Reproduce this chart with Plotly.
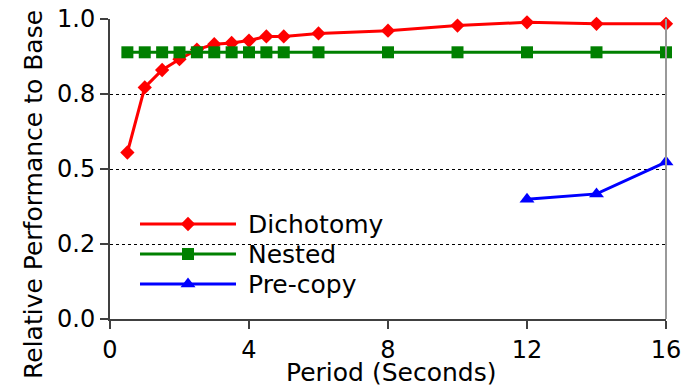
import plotly.graph_objects as go

# ---- data ----
periods = [0.5, 1, 1.5, 2, 2.5, 3, 3.5, 4, 4.5, 5, 6, 8, 10, 12, 14, 16]
dichotomy = [0.555, 0.772, 0.83, 0.866, 0.898, 0.916, 0.92, 0.928, 0.942, 0.942,
             0.952, 0.961, 0.978, 0.989, 0.984, 0.984]
nested = [0.889] * len(periods)
precopy_periods = [12, 14, 16]
precopy = [0.399, 0.417, 0.523]

x_ticks = [0, 4, 8, 12, 16]
y_ticks = [0, 0.25, 0.5, 0.75, 1.0]
y_tick_labels = ["0.0", "0.2", "0.5", "0.8", "1.0"]

series_names = ["Dichotomy", "Nested", "Pre-copy"]
series_colors = ["#ff0000", "#008000", "#0000ff"]
series_symbols = ["diamond", "square", "triangle-up"]
series_sizes = [11, 12, 13]

FONT = "DejaVu Sans"
W, H = 692, 388
L, R, T, B = 110, 26, 19, 69

fig = go.Figure()

xs = [periods, periods, precopy_periods]
ys = [dichotomy, nested, precopy]
for name, x, y, c, s, sz in zip(series_names, xs, ys, series_colors, series_symbols, series_sizes):
    fig.add_trace(go.Scatter(
        x=x, y=y, name=name, mode="lines+markers",
        line=dict(color=c, width=3),
        marker=dict(symbol=s, size=sz, color=c, line=dict(width=0)),
        cliponaxis=False, showlegend=False,
    ))

# ---- manual legend (layout decoration) ----
pw = W - L - R
ph = H - T - B
def px_x(p):
    return (p - L) / pw
def px_y(p):
    return (H - B - p) / ph

leg_rows_px = [224, 254, 284]
leg_x0, leg_x1, leg_mark, leg_text = 140, 236, 188, 246
shapes = []
annotations = []
for name, c, s, sz, yp in zip(series_names, series_colors, series_symbols, series_sizes, leg_rows_px):
    shapes.append(dict(type="line", xref="paper", yref="paper",
                       x0=px_x(leg_x0), x1=px_x(leg_x1), y0=px_y(yp), y1=px_y(yp),
                       line=dict(color=c, width=3)))
    fig.add_trace(go.Scatter(
        x=[px_x(leg_mark)], y=[px_y(yp)], xaxis="x2", yaxis="y2", mode="markers",
        marker=dict(symbol=s, size=sz, color=c), showlegend=False,
        cliponaxis=False, hoverinfo="skip"))
    annotations.append(dict(xref="paper", yref="paper", x=px_x(leg_text), y=px_y(yp),
                            xanchor="left", yanchor="middle", showarrow=False,
                            text=name, font=dict(family=FONT, size=25, color="black")))

# right spine (gray)
shapes.append(dict(type="line", xref="paper", yref="paper", x0=1, x1=1, y0=0, y1=1,
                   line=dict(color="#999999", width=2)))

annotations.append(dict(xref="paper", yref="paper", x=px_x(33), y=px_y(195),
                        xanchor="center", yanchor="middle", textangle=-90, showarrow=False,
                        text="Relative Performance to Base",
                        font=dict(family=FONT, size=25, color="black")))
annotations.append(dict(xref="paper", yref="paper", x=px_x(391), y=px_y(388),
                        xanchor="center", yanchor="bottom", showarrow=False, borderpad=0,
                        text="Period (Seconds)",
                        font=dict(family=FONT, size=25, color="black")))

fig.update_layout(
    width=W, height=H,
    margin=dict(l=L, r=R, t=T, b=B, pad=0, autoexpand=False),
    paper_bgcolor="white", plot_bgcolor="white",
    font=dict(family=FONT, size=24, color="black"),
    showlegend=False,
    shapes=shapes, annotations=annotations,
    xaxis=dict(range=[0, 16], tickvals=x_ticks, ticks="outside", ticklen=8, tickwidth=1.5,
               tickcolor="#404040", showline=True, linecolor="#404040", linewidth=2,
               showgrid=False, zeroline=False, tickfont=dict(size=24), automargin=False),
    yaxis=dict(range=[0, 1.0], tickvals=y_ticks, ticktext=y_tick_labels, ticks="outside",
               ticklen=8, tickwidth=1.5, tickcolor="#404040", showline=True,
               linecolor="#404040", linewidth=2, showgrid=True, gridcolor="black",
               griddash="dot", gridwidth=1, zeroline=False, tickfont=dict(size=24),
               automargin=False),
    xaxis2=dict(overlaying="x", range=[0, 1], visible=False, fixedrange=True, automargin=False),
    yaxis2=dict(overlaying="y", range=[0, 1], visible=False, fixedrange=True, automargin=False),
)

fig.write_html(
    "out.html",
    config={"displayModeBar": False},
    post_script="document.body.style.margin='0px';document.body.style.overflow='hidden';",
)
